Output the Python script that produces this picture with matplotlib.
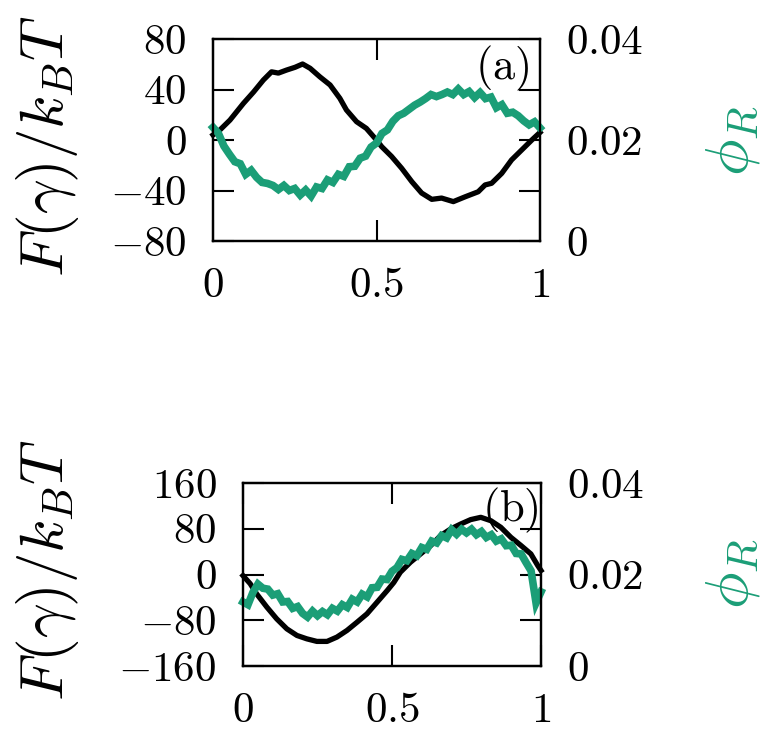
import numpy as np
import matplotlib
matplotlib.use("Agg")
import matplotlib.pyplot as plt
from matplotlib.ticker import FixedLocator, FixedFormatter

plt.rcParams['mathtext.fontset'] = 'cm'
plt.rcParams['font.family'] = 'serif'
plt.rcParams['font.serif'] = ['cmr10', 'DejaVu Serif']

GREEN = '#1b9e77'

# ---- panel (a) ----
gamma_a = [0, 0.021, 0.052, 0.093, 0.124, 0.154, 0.179, 0.2, 0.225, 0.251, 0.274,
           0.297, 0.327, 0.358, 0.388, 0.408, 0.439, 0.469, 0.5, 0.516, 0.546,
           0.577, 0.608, 0.638, 0.669, 0.699, 0.735, 0.771, 0.811, 0.832, 0.852,
           0.883, 0.913, 0.944, 0.975, 1.0]
free_a = [4, 7.9, 15.8, 29, 38, 47.5, 54, 53, 55.4, 57.6, 60.2,
          56.8, 50, 43.6, 33, 23.8, 14.5, 9.2, 0, -5.3, -13,
          -22.4, -33, -42, -47, -46, -48.8, -45, -41, -35.6, -34.3,
          -26.4, -15.8, -7.9, 0, 6]
phi_a = [0.0225, 0.0213, 0.0188, 0.0172, 0.0157, 0.0153, 0.0132, 0.0140, 0.0126, 0.0116,
         0.0114, 0.0110, 0.0102, 0.0110, 0.0100, 0.0104, 0.0091, 0.0101, 0.0089, 0.0107,
         0.0104, 0.0121, 0.0116, 0.0132, 0.0128, 0.0147, 0.0148, 0.0164, 0.0168, 0.0186,
         0.0194, 0.0213, 0.0220, 0.0237, 0.0248, 0.0253, 0.0261, 0.0269, 0.0275, 0.0282,
         0.0290, 0.0286, 0.0290, 0.0295, 0.0290, 0.0301, 0.0290, 0.0296, 0.0284, 0.0294,
         0.0282, 0.0285, 0.0264, 0.0270, 0.0253, 0.0255, 0.0248, 0.0238, 0.0230, 0.0236,
         0.0224]

# ---- panel (b) ----
gamma_b = [0, 0.024, 0.046, 0.080, 0.113, 0.147, 0.181, 0.214, 0.248, 0.282, 0.315,
           0.349, 0.383, 0.416, 0.450, 0.484, 0.506, 0.528, 0.562, 0.596, 0.630,
           0.663, 0.697, 0.731, 0.764, 0.798, 0.832, 0.865, 0.899, 0.933, 0.966,
           0.989, 1.0]
free_b = [-2, -16, -34, -57, -77.5, -95, -106.6, -112.5, -117, -117, -109.5,
          -97.8, -83.3, -68.8, -48.4, -28, -14, 4, 21.5, 36, 50.6,
          68, 79.7, 88.4, 96, 100, 94, 82.6, 65, 50.6, 36,
          15.7, 7]
phi_b = [0.0140, 0.0134, 0.0161, 0.0179, 0.0170, 0.0168, 0.0155, 0.0158, 0.0140, 0.0141,
         0.0126, 0.0130, 0.0115, 0.0107, 0.0120, 0.0110, 0.0119, 0.0112, 0.0126, 0.0120,
         0.0134, 0.0128, 0.0146, 0.0140, 0.0157, 0.0151, 0.0171, 0.0172, 0.0190, 0.0189,
         0.0207, 0.0215, 0.0233, 0.0230, 0.0246, 0.0241, 0.0259, 0.0255, 0.0273, 0.0269,
         0.0285, 0.0280, 0.0298, 0.0288, 0.0299, 0.0291, 0.0299, 0.0287, 0.0294, 0.0281,
         0.0287, 0.0273, 0.0278, 0.0263, 0.0264, 0.0246, 0.0245, 0.0226, 0.0208, 0.0138,
         0.0162]

x_ticks = [0, 0.5, 1]
x_labels = ['$0$', '$0.5$', '$1$']
phi_ticks = [0, 0.02, 0.04]
phi_labels = ['$0$', '$0.02$', '$0.04$']
free_ticks_a = [-80, -40, 0, 40, 80]
free_ticks_b = [-160, -80, 0, 80, 160]

W, H = 761, 735
fig = plt.figure(figsize=(W / 100, H / 100), dpi=100)

TICK_FS = 31
LABEL_FS = 44


def panel(px_box, gx, free, phi, fticks, tag, tag_xy, ylab_px, philab_px):
    x0, y0, x1, y1 = px_box
    ax = fig.add_axes([x0 / W, 1 - y1 / H, (x1 - x0) / W, (y1 - y0) / H])
    ax.plot(gx, free, color='black', lw=3.8, clip_on=False, zorder=3,
            solid_joinstyle='round')
    ax.set_xlim(0, 1)
    ax.set_ylim(fticks[0], fticks[-1])
    ax.xaxis.set_major_locator(FixedLocator(x_ticks))
    ax.xaxis.set_major_formatter(FixedFormatter(x_labels))
    ax.yaxis.set_major_locator(FixedLocator(fticks))
    ax.yaxis.set_major_formatter(FixedFormatter([f'${t}$' for t in fticks]))
    for s in ax.spines.values():
        s.set_linewidth(1.6)

    ax2 = ax.twinx()
    ax2.plot(np.linspace(0, 1, len(phi)), phi, color=GREEN, lw=5.5,
             clip_on=False, solid_joinstyle='miter')
    ax2.set_ylim(0, 0.04)
    ax2.yaxis.set_major_locator(FixedLocator(phi_ticks))
    ax2.yaxis.set_major_formatter(FixedFormatter(phi_labels))
    ax2.tick_params(axis='y', length=0, labelsize=TICK_FS, pad=19)
    for s in ax2.spines.values():
        s.set_linewidth(1.6)

    ax.tick_params(direction='in', length=15, width=1.5, labelsize=TICK_FS,
                   top=True, right=True, labelright=False, pad=19)

    ax2.text(tag_xy[0], tag_xy[1], tag, transform=ax2.transAxes,
             fontsize=32, ha='center', va='center', zorder=5)

    fig.text(ylab_px[0] / W, 1 - ylab_px[1] / H, r'$F(\gamma)/k_BT$',
             fontsize=LABEL_FS, rotation=90, ha='center', va='center')
    fig.text(philab_px[0] / W, 1 - philab_px[1] / H, r'$\phi_R$',
             fontsize=LABEL_FS, rotation=90, ha='center', va='center',
             color=GREEN)
    return ax, ax2


panel((213, 39, 540, 241), gamma_a, free_a, phi_a, free_ticks_a,
      r'$\mathrm{(a)}$', (0.884, 0.856), (48, 146), (733, 141))
panel((243, 483, 541, 666), gamma_b, free_b, phi_b, free_ticks_b,
      r'$\mathrm{(b)}$', (0.896, 0.852), (48, 570), (733, 574))

fig.savefig('out.png', dpi=100)
